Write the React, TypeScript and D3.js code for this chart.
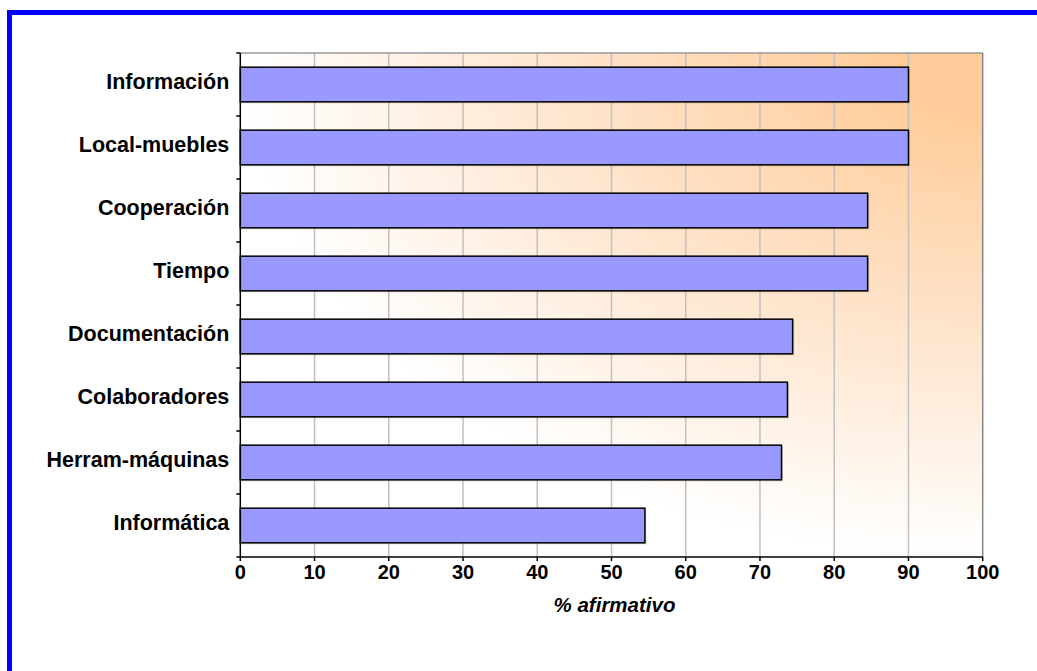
import { useMemo } from 'react'
import * as d3 from 'd3'

const categories = [
  'Información',
  'Local-muebles',
  'Cooperación',
  'Tiempo',
  'Documentación',
  'Colaboradores',
  'Herram-máquinas',
  'Informática',
]
const values = [90, 90, 84.5, 84.5, 74.4, 73.7, 72.9, 54.5]
const xTicks = [0, 10, 20, 30, 40, 50, 60, 70, 80, 90, 100]
const axisTitle = '% afirmativo'

const W = 1037
const H = 671
const FONT = '"Liberation Sans", Arial, sans-serif'

export default function App() {
  const margin = { top: 53, right: 54.3, bottom: 114, left: 240.3 }
  const innerW = W - margin.left - margin.right
  const innerH = H - margin.top - margin.bottom

  const x = useMemo(() => d3.scaleLinear().domain([0, 100]).range([0, innerW]), [innerW])
  const y = useMemo(
    () => d3.scaleBand<string>().domain(categories).range([0, innerH]).paddingInner(0.45).paddingOuter(0.225),
    [innerH]
  )
  // band boundaries for the category axis ticks
  const yEdge = d3.scaleBand<string>().domain(categories).range([0, innerH]).padding(0)
  const edges = [...categories.map((c) => yEdge(c) as number), innerH]

  return (
    <svg
      width={W}
      height={H}
      style={{ position: 'absolute', left: 0, top: 0, background: '#ffffff' }}
      fontFamily={FONT}
    >
      <defs>
        <radialGradient id="bg" cx="1" cy="0" r="1" fx="1" fy="0">
          <stop offset="0" stopColor="#FFCC99" />
          <stop offset="0.12" stopColor="#FFCC99" />
          <stop offset="0.55" stopColor="#FEE4CC" />
          <stop offset="1" stopColor="#FFFFFF" />
        </radialGradient>
      </defs>

      {/* blue frame */}
      <rect x={9.5} y={12.5} width={W + 20} height={H + 20} fill="none" stroke="#0000FF" strokeWidth={5} />

      <g transform={`translate(${margin.left},${margin.top})`}>
        <rect x={0} y={0} width={innerW} height={innerH} fill="url(#bg)" />

        {/* vertical gridlines */}
        {xTicks.slice(1, -1).map((t) => (
          <line key={t} x1={x(t)} x2={x(t)} y1={0} y2={innerH} stroke="#C0C0C0" strokeWidth={1.5} />
        ))}

        {/* plot border top/right */}
        <line x1={0} x2={innerW} y1={0} y2={0} stroke="#999999" strokeWidth={1.5} />
        <line x1={innerW} x2={innerW} y1={0} y2={innerH} stroke="#888888" strokeWidth={1.5} />

        {/* bars */}
        {categories.map((c, i) => (
          <g key={c}>
            <rect
              x={x(0) + 1.5}
              y={(y(c) as number) + 1.5}
              width={x(values[i]) - x(0)}
              height={y.bandwidth()}
              fill="#000000"
              opacity={0.15}
            />
            <rect
              x={x(0)}
              y={y(c)}
              width={x(values[i]) - x(0)}
              height={y.bandwidth()}
              fill="#9999FF"
              stroke="#000000"
              strokeWidth={1.5}
            />
          </g>
        ))}

        {/* category axis */}
        <line x1={0} x2={0} y1={0} y2={innerH} stroke="#000000" strokeWidth={1.5} />
        {edges.map((e, i) => (
          <line key={i} x1={-4} x2={0} y1={e} y2={e} stroke="#000000" strokeWidth={1.5} />
        ))}
        {categories.map((c) => (
          <text
            key={c}
            x={-11}
            y={(y(c) as number) + y.bandwidth() / 2 + 4.5}
            textAnchor="end"
            fontSize={21.5}
            fontWeight="bold"
            fill="#000000"
          >
            {c}
          </text>
        ))}

        {/* value axis */}
        <line x1={0} x2={innerW} y1={innerH} y2={innerH} stroke="#000000" strokeWidth={1.5} />
        {xTicks.map((t) => (
          <g key={t} transform={`translate(${x(t)},${innerH})`}>
            <line y1={0} y2={4} stroke="#000000" strokeWidth={1.5} />
            <text y={21.5} textAnchor="middle" fontSize={20} fontWeight="bold" fill="#000000">
              {t}
            </text>
          </g>
        ))}
        <text
          x={innerW / 2 + 3}
          y={innerH + 55}
          textAnchor="middle"
          fontSize={20.5}
          fontWeight="bold"
          fontStyle="italic"
          fill="#000000"
        >
          {axisTitle}
        </text>
      </g>
    </svg>
  )
}
